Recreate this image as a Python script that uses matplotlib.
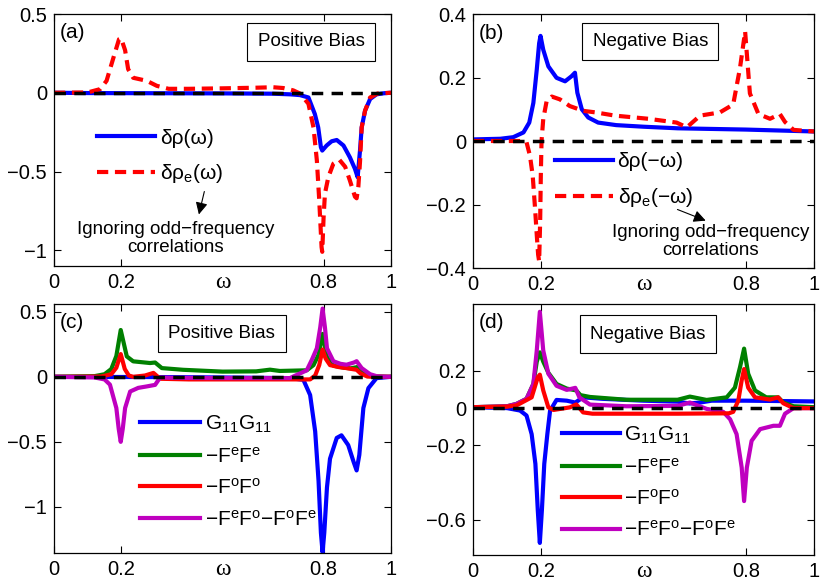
import matplotlib
matplotlib.use("Agg")
import matplotlib.pyplot as plt

plt.rcParams['font.family'] = ['Liberation Sans', 'DejaVu Sans']
plt.rcParams['mathtext.default'] = 'regular'
plt.rcParams['axes.linewidth'] = 0.9

# ---------------- data ----------------
# panel (a)
a_blue_x = [0, 0.1, 0.3, 0.5, 0.65, 0.70, 0.73, 0.755, 0.774, 0.784, 0.792, 0.796, 0.809, 0.824, 0.839,
            0.859, 0.878, 0.893, 0.901, 0.908, 0.913, 0.923, 0.938, 0.957, 0.98, 1.0]
a_blue_y = [0, -0.002, -0.003, -0.004, -0.006, -0.01, -0.015, -0.03, -0.135, -0.22, -0.346, -0.367, -0.335,
            -0.308, -0.30, -0.335, -0.41, -0.483, -0.536, -0.367, -0.22, -0.114, -0.04, -0.01, -0.003, 0]
a_red_x = [0, 0.1, 0.137, 0.156, 0.176, 0.193, 0.199, 0.211, 0.22, 0.235, 0.275, 0.305, 0.34, 0.4, 0.5,
           0.6, 0.65, 0.68, 0.71, 0.73, 0.755, 0.77, 0.78, 0.787, 0.794, 0.796, 0.80, 0.804, 0.814, 0.829,
           0.847, 0.864, 0.878, 0.893, 0.898, 0.903, 0.908, 0.913, 0.923, 0.938, 0.96, 1.0]
a_red_y = [0, 0.002, 0.023, 0.076, 0.22, 0.34, 0.346, 0.27, 0.15, 0.095, 0.076, 0.044, 0.025, 0.025, 0.028,
           0.032, 0.035, 0.03, 0.015, -0.005, -0.07, -0.22, -0.43, -0.68, -0.98, -1.01, -0.79, -0.64, -0.536,
           -0.45, -0.426, -0.47, -0.557, -0.66, -0.67, -0.6, -0.44, -0.22, -0.114, -0.03, -0.005, 0]

# panel (b)
b_blue_x = [0, 0.08, 0.118, 0.148, 0.165, 0.177, 0.187, 0.194, 0.198, 0.206, 0.221, 0.245, 0.27, 0.289,
            0.299, 0.306, 0.319, 0.338, 0.367, 0.42, 0.5, 0.6, 0.8, 1.0]
b_blue_y = [0.005, 0.007, 0.012, 0.027, 0.058, 0.12, 0.225, 0.308, 0.331, 0.2875, 0.235, 0.199, 0.188,
            0.204, 0.215, 0.152, 0.10, 0.074, 0.058, 0.05, 0.045, 0.04, 0.036, 0.03]
b_red_x = [0, 0.1, 0.14, 0.157, 0.167, 0.175, 0.182, 0.187, 0.191, 0.194, 0.197, 0.199, 0.201, 0.206,
           0.216, 0.231, 0.255, 0.284, 0.323, 0.36, 0.416, 0.514, 0.597, 0.627, 0.666, 0.724, 0.763,
           0.783, 0.798, 0.812, 0.837, 0.871, 0.90, 0.915, 0.94, 1.0]
b_red_y = [0, 0, 0, -0.004, -0.046, -0.108, -0.2125, -0.296, -0.358, -0.379, -0.25, -0.1, 0.0, 0.069,
           0.126, 0.14, 0.131, 0.11, 0.095, 0.09, 0.08, 0.07, 0.058, 0.043, 0.08, 0.09, 0.115,
           0.23, 0.345, 0.15, 0.085, 0.07, 0.085, 0.06, 0.035, 0.03]

# panel (c)
c_blue_x = [0, 0.3, 0.5, 0.7, 0.74, 0.76, 0.775, 0.785, 0.792, 0.797, 0.802, 0.81, 0.819, 0.839, 0.853,
            0.873, 0.889, 0.898, 0.906, 0.918, 0.933, 0.957, 1.0]
c_blue_y = [0, -0.002, -0.005, -0.01, -0.023, -0.14, -0.42, -0.8, -1.2, -1.35, -1.2, -0.85, -0.63, -0.47,
            -0.45, -0.525, -0.654, -0.72, -0.6, -0.24, -0.087, -0.01, 0]
c_green_x = [0, 0.12, 0.15, 0.17, 0.185, 0.198, 0.216, 0.235, 0.285, 0.30, 0.32, 0.383, 0.5, 0.6, 0.641,
             0.67, 0.75, 0.77, 0.785, 0.797, 0.81, 0.83, 0.86, 0.88, 0.90, 0.915, 0.935, 1.0]
c_green_y = [0, 0.005, 0.02, 0.06, 0.16, 0.36, 0.157, 0.119, 0.106, 0.11, 0.067, 0.054, 0.04, 0.042, 0.055,
             0.045, 0.05, 0.09, 0.17, 0.33, 0.15, 0.085, 0.07, 0.065, 0.075, 0.04, 0.005, 0]
c_red_x = [0, 0.14, 0.17, 0.185, 0.198, 0.21, 0.222, 0.235, 0.27, 0.295, 0.315, 0.4, 0.6, 0.76, 0.775,
           0.787, 0.797, 0.806, 0.819, 0.845, 0.868, 0.898, 0.91, 0.93, 1.0]
c_red_y = [0, 0.002, 0.02, 0.07, 0.175, 0.06, 0.01, 0.0, 0.01, 0.03, -0.015, -0.02, -0.02, -0.02, 0.01,
           0.09, 0.21, 0.14, 0.09, 0.075, 0.067, 0.054, 0.025, 0.002, 0]
c_mag_x = [0, 0.12, 0.15, 0.166, 0.185, 0.192, 0.198, 0.204, 0.211, 0.226, 0.25, 0.275, 0.30, 0.315, 0.35,
           0.5, 0.7, 0.75, 0.765, 0.78, 0.79, 0.797, 0.804, 0.81, 0.829, 0.85, 0.868, 0.89, 0.898, 0.913,
           0.938, 0.96, 1.0]
c_mag_y = [0, -0.005, -0.02, -0.06, -0.24, -0.4, -0.5, -0.4, -0.24, -0.113, -0.085, -0.074, -0.062, -0.005,
           -0.008, -0.01, -0.01, 0.05, 0.13, 0.22, 0.38, 0.525, 0.38, 0.22, 0.12, 0.1, 0.093, 0.11, 0.12,
           0.067, 0.02, 0.003, 0]

# panel (d)
d_blue_x = [0, 0.1, 0.138, 0.157, 0.172, 0.183, 0.19, 0.196, 0.202, 0.209, 0.218, 0.226, 0.245, 0.275,
            0.30, 0.323, 0.38, 0.5, 0.6, 0.635, 0.666, 0.7, 0.8, 1.0]
d_blue_y = [0.005, 0.0, -0.013, -0.04, -0.14, -0.3, -0.55, -0.725, -0.55, -0.3, -0.14, -0.014, 0.044, 0.04,
            0.03, 0.058, 0.05, 0.04, 0.035, 0.025, 0.03, 0.04, 0.04, 0.036]
d_green_x = [0, 0.1, 0.128, 0.157, 0.177, 0.187, 0.196, 0.206, 0.221, 0.245, 0.275, 0.303, 0.315, 0.343,
             0.45, 0.6, 0.636, 0.685, 0.744, 0.768, 0.783, 0.795, 0.807, 0.827, 0.86, 0.895, 0.91, 0.94, 1.0]
d_green_y = [0.005, 0.01, 0.023, 0.05, 0.13, 0.25, 0.30, 0.25, 0.19, 0.13, 0.105, 0.095, 0.07, 0.06,
             0.045, 0.045, 0.062, 0.044, 0.058, 0.11, 0.22, 0.32, 0.185, 0.095, 0.058, 0.058, 0.03, 0.01, 0.005]
d_red_x = [0, 0.1, 0.128, 0.172, 0.19, 0.196, 0.206, 0.221, 0.236, 0.284, 0.303, 0.323, 0.35, 0.6, 0.75,
           0.763, 0.778, 0.788, 0.795, 0.807, 0.827, 0.871, 0.895, 0.91, 0.94, 1.0]
d_red_y = [0.005, 0.008, 0.015, 0.058, 0.166, 0.18, 0.095, 0.004, -0.01, 0.004, 0.02, -0.023, -0.03, -0.03,
           -0.028, -0.02, 0.04, 0.15, 0.21, 0.11, 0.058, 0.046, 0.058, 0.026, 0.0, 0.0]
d_mag_x = [0, 0.1, 0.128, 0.157, 0.177, 0.187, 0.196, 0.206, 0.221, 0.245, 0.275, 0.30, 0.312, 0.343,
           0.45, 0.6, 0.636, 0.685, 0.734, 0.754, 0.773, 0.788, 0.795, 0.803, 0.817, 0.842, 0.881, 0.90,
           0.915, 0.94, 1.0]
d_mag_y = [0.005, 0.01, 0.023, 0.05, 0.13, 0.31, 0.518, 0.31, 0.185, 0.12, 0.098, 0.109, 0.058, 0.019,
           0.01, 0.012, 0.03, -0.004, -0.02, -0.06, -0.14, -0.32, -0.5, -0.32, -0.176, -0.113, -0.095,
           -0.095, -0.03, 0.0, 0.0]

zero_x = [0, 1]
zero_y = [0, 0]

x_ticks = [0, 0.2, 0.8, 1]
x_tick_labels = ['0', '0.2', '0.8', '1']
a_yticks = [-1, -0.5, 0, 0.5]
a_yticklabels = ['\u22121', '\u22120.5', '0', '0.5']
b_yticks = [-0.4, -0.2, 0, 0.2, 0.4]
b_yticklabels = ['\u22120.4', '\u22120.2', '0', '0.2', '0.4']
c_yticks = [-1, -0.5, 0, 0.5]
c_yticklabels = ['\u22121', '\u22120.5', '0', '0.5']
d_yticks = [-0.6, -0.2, 0, 0.2]
d_yticklabels = ['\u22120.6', '\u22120.2', '0', '0.2']

# ---------------- figure ----------------
fig = plt.figure(figsize=(8.3, 5.88), dpi=100)
W, H = 830.0, 588.0

def make_ax(l, r, t, b):
    return fig.add_axes([l / W, 1 - b / H, (r - l) / W, (b - t) / H])

axa = make_ax(54, 391, 14, 266)
axb = make_ax(473, 814, 14, 268)
axc = make_ax(54, 391, 304, 553)
axd = make_ax(473, 814, 304, 555)

BLUE = (0, 0, 1)
RED = (1, 0, 0)
GREEN = (0, 0.5, 0)
MAG = (0.75, 0, 0.75)
LW = 3.0
red_dash = (2.7, 1.6)
blk_dash = (3.3, 2.4)
LEGFS = 15

def style(ax, ylim, yt, ytl, letter, bias, bx, by):
    ax.set_xlim(0, 1)
    ax.set_ylim(*ylim)
    ax.set_xticks(x_ticks)
    ax.set_xticklabels(x_tick_labels)
    ax.set_yticks(yt)
    ax.set_yticklabels(ytl)
    ax.tick_params(direction='in', length=5, width=0.8, top=True, right=True, labelsize=14.5, pad=5)
    ax.text(0.5, -0.025, '\u03c9', transform=ax.transAxes, ha='center', va='top',
            fontsize=17, family=['Liberation Serif', 'DejaVu Serif'])
    ax.text(0.018, 0.925, letter, transform=ax.transAxes, ha='left', va='center', fontsize=15)
    ax.text(bx, by, bias, transform=ax.transAxes, ha='center', va='center', fontsize=13.5,
            bbox=dict(boxstyle='square,pad=0.55', fc='white', ec='black', lw=0.8))

# ---- (a)
l1, = axa.plot(a_blue_x, a_blue_y, color=BLUE, lw=LW)
l2, = axa.plot(a_red_x, a_red_y, color=RED, lw=LW, dashes=red_dash)
axa.plot(zero_x, zero_y, color='k', lw=2.5, dashes=blk_dash)
style(axa, (-1.1, 0.5), a_yticks, a_yticklabels, '(a)', 'Positive Bias', 0.763, 0.889)
axa.legend([l1, l2], ['\u03b4\u03c1(\u03c9)', '$\u03b4\u03c1_e(\u03c9)$'], loc='upper left',
           bbox_to_anchor=(0.128, 0.545), frameon=False, fontsize=LEGFS, handlelength=2.8,
           handletextpad=0.2, labelspacing=0.7, borderpad=0, borderaxespad=0)
axa.annotate('', xy=(0.428, -0.79), xytext=(0.448, -0.61),
             arrowprops=dict(arrowstyle='-|>', color='k', lw=0.8, mutation_scale=18))
axa.text(0.362, -0.925, 'Ignoring odd\u2212frequency\ncorrelations', ha='center', va='center',
         fontsize=13.5, linespacing=1.05)

# ---- (b)
m1, = axb.plot(b_blue_x, b_blue_y, color=BLUE, lw=LW)
m2, = axb.plot(b_red_x, b_red_y, color=RED, lw=LW, dashes=red_dash)
axb.plot(zero_x, zero_y, color='k', lw=2.5, dashes=blk_dash)
style(axb, (-0.4, 0.4), b_yticks, b_yticklabels, '(b)', 'Negative Bias', 0.52, 0.891)
axb.legend([m1, m2], ['\u03b4\u03c1(\u2212\u03c9)', '$\u03b4\u03c1_e(\u2212\u03c9)$'], loc='upper left',
           bbox_to_anchor=(0.2405, 0.455), frameon=False, fontsize=LEGFS, handlelength=2.8,
           handletextpad=0.2, labelspacing=0.7, borderpad=0, borderaxespad=0)
axb.annotate('', xy=(0.69, -0.254), xytext=(0.592, -0.2125),
             arrowprops=dict(arrowstyle='-|>', color='k', lw=0.8, mutation_scale=18))
axb.text(0.698, -0.317, 'Ignoring odd\u2212frequency\ncorrelations', ha='center', va='center',
         fontsize=13.5, linespacing=1.05)

labels4 = ['$G_{11}G_{11}$', '$-F^eF^e$', '$-F^oF^o$', '$-F^eF^o{-}F^oF^e$']

# ---- (c)
n1, = axc.plot(c_blue_x, c_blue_y, color=BLUE, lw=LW)
n2, = axc.plot(c_green_x, c_green_y, color=GREEN, lw=LW)
n3, = axc.plot(c_red_x, c_red_y, color=RED, lw=LW)
n4, = axc.plot(c_mag_x, c_mag_y, color=MAG, lw=LW)
axc.plot(zero_x, zero_y, color='k', lw=2.5, dashes=blk_dash)
style(axc, (-1.355, 0.56), c_yticks, c_yticklabels, '(c)', 'Positive Bias', 0.498, 0.881)
axc.legend([n1, n2, n3, n4], labels4, loc='upper left', bbox_to_anchor=(0.255, 0.56),
           frameon=False, fontsize=LEGFS, handlelength=2.9, handletextpad=0.2, labelspacing=0.55,
           borderpad=0, borderaxespad=0)

# ---- (d)
k1, = axd.plot(d_blue_x, d_blue_y, color=BLUE, lw=LW)
k2, = axd.plot(d_green_x, d_green_y, color=GREEN, lw=LW)
k4, = axd.plot(d_mag_x, d_mag_y, color=MAG, lw=LW)
k3, = axd.plot(d_red_x, d_red_y, color=RED, lw=LW)
axd.plot(zero_x, zero_y, color='k', lw=2.5, dashes=blk_dash)
style(axd, (-0.79, 0.56), d_yticks, d_yticklabels, '(d)', 'Negative Bias', 0.513, 0.88)
axd.legend([k1, k2, k3, k4], labels4, loc='upper left', bbox_to_anchor=(0.26, 0.52),
           frameon=False, fontsize=LEGFS, handlelength=2.8, handletextpad=0.2, labelspacing=0.55,
           borderpad=0, borderaxespad=0)

fig.savefig('out.png', dpi=100)
